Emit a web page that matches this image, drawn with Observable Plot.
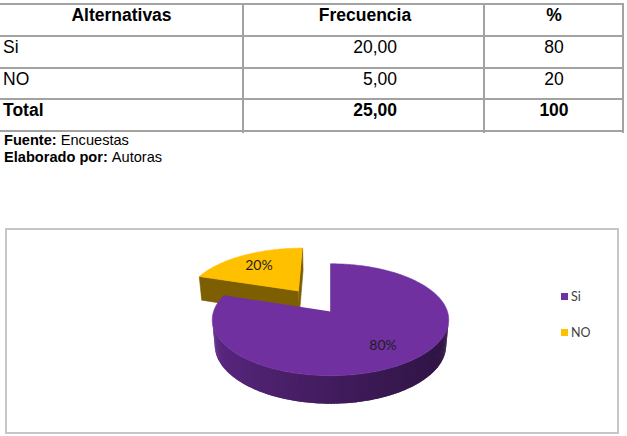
<!DOCTYPE html>
<html>
<head>
<meta charset="utf-8">
<script src="https://cdn.jsdelivr.net/npm/d3@7"></script>
<script src="https://cdn.jsdelivr.net/npm/@observablehq/plot@0.6"></script>
<style>
  html, body { margin: 0; padding: 0; background: #fff; }
  body { width: 627px; height: 436px; position: relative; overflow: hidden;
         font-family: "Liberation Sans", Arial, sans-serif; color: #000; }
  .t { position: absolute; white-space: pre; }
  .hl { position: absolute; left: 0; width: 624px; height: 2px; background: #a2a2a2; }
  .vl { position: absolute; top: 3px; height: 130px; width: 2px; background: #a2a2a2; }
  #box { position: absolute; left: 5px; top: 228px; width: 610px; height: 202px;
         border: 2px solid #c6c6c6; }
  #chart { position: absolute; left: 0; top: 229px; }
  #legend { position: absolute; left: 561px; top: 289px; }
  .lg-swatch { padding-bottom: 0 !important; height: 15px; margin-bottom: 20.5px !important; }
  .lg-swatch svg { margin-right: 3px !important; }
</style>
</head>
<body>
<div id="chart"></div>
<div id="box"></div>
<div id="legend"></div>
<script>
// ---------- data ----------
const headers = ["Alternativas", "Frecuencia", "%"];
const categories = ["Si", "NO"];
const frecuencia = [20, 5];
const porcentaje = [80, 20];
const totalLabel = "Total";
const fuente = ["Fuente:", "Encuestas"];
const elaborado = ["Elaborado por:", "Autoras"];
const colores = ["#7030a0", "#ffc000"];

// ---------- table ----------
const fmt = v => v.toFixed(2).replace(".", ",");
const rowTops = [4, 36, 68, 99, 131];
const colEdges = [0, 243, 484, 623];
rowTops.forEach(y => {
  const d = document.createElement("div"); d.className = "hl"; d.style.top = (y - 1) + "px";
  document.body.appendChild(d);
});
colEdges.slice(1).forEach(x => {
  const d = document.createElement("div"); d.className = "vl"; d.style.left = (x - 1) + "px";
  document.body.appendChild(d);
});
function addText(parts, x, base, align, size) {
  const d = document.createElement("div");
  d.className = "t";
  const lh = Math.round(size * 1.15);
  d.style.fontSize = size + "px"; d.style.lineHeight = lh + "px";
  parts.forEach(([txt, bold]) => {
    const s = document.createElement("span");
    s.textContent = txt; s.style.fontWeight = bold ? "bold" : "normal";
    d.appendChild(s);
  });
  const asc = 0.905 * size, desc = 0.212 * size, half = (lh - asc - desc) / 2;
  d.style.top = (base - half - asc) + "px";
  if (align === "left") d.style.left = x + "px";
  else if (align === "right") d.style.right = (627 - x) + "px";
  else { d.style.left = (x - 200) + "px"; d.style.width = "400px"; d.style.textAlign = "center"; }
  document.body.appendChild(d);
}
const FS = 17.5;
const colCenter = [121.5, 365, 554];
headers.forEach((h, j) => addText([[h, true]], colCenter[j], rowTops[0] + 17, "center", FS));
categories.forEach((c, i) => {
  const base = rowTops[i + 1] + 17;
  addText([[c, false]], 3, base, "left", FS);
  addText([[fmt(frecuencia[i]), false]], 397, base, "right", FS);
  addText([[String(porcentaje[i]), false]], colCenter[2], base, "center", FS);
});
{
  const base = rowTops[3] + 17.5;
  addText([[totalLabel, true]], 3, base, "left", FS);
  addText([[fmt(d3.sum(frecuencia)), true]], 397, base, "right", FS);
  addText([[String(d3.sum(porcentaje)), true]], colCenter[2], base, "center", FS);
}
addText([[fuente[0] + " ", true], [fuente[1], false]], 4, 146, "left", 14.6);
addText([[elaborado[0] + " ", true], [elaborado[1], false]], 4, 162.7, "left", 14.6);

// ---------- 3D pie ----------
const E = 30 * Math.PI / 180, F = 6, H = 0.25;
const explode = [0, 0.49];
function proj(u, v, z) {
  const yUp = v * Math.sin(E) + z * Math.cos(E);
  const D = v * Math.cos(E) - z * Math.sin(E);
  const s = F / (F + D);
  return [u * s, yUp * s];
}
const cam = [0, -F * Math.cos(E), F * Math.sin(E)];
const total = d3.sum(porcentaje);
let acc = 0;
const slices = categories.map((c, i) => {
  const a0 = acc; acc += porcentaje[i] / total * 2 * Math.PI;
  const a1 = acc, mid = (a0 + a1) / 2;
  return { i, c, a0, a1, mid, ou: explode[i] * Math.sin(mid), ov: explode[i] * Math.cos(mid) };
});
const order = slices.slice().sort((a, b) => (b.ov + 0.5 * Math.cos(b.mid)) - (a.ov + 0.5 * Math.cos(a.mid)));
const solid = [], walls = []; let pid = 0;
function poly(arr, list, color) { pid++; list.forEach(([X, Y]) => arr.push({ id: pid, X, Y, color })); }
function visible(n, p) {
  return n[0] * (cam[0] - p[0]) + n[1] * (cam[1] - p[1]) > 0;
}
const labels = [];
const layers = [];
for (const sl of order) {
  const col = colores[sl.i];
  const P = (t, r, z) => proj(sl.ou + r * Math.sin(t), sl.ov + r * Math.cos(t), z);
  const cut = d3.rgb(col).darker(2).formatHex();
  const faces = [], wallPts = [], topPts = [];
  [[sl.a0, sl.a0 - Math.PI / 2], [sl.a1, sl.a1 + Math.PI / 2]].forEach(([t, na]) => {
    const n = [Math.sin(na), Math.cos(na)];
    const p = [sl.ou + 0.5 * Math.sin(t), sl.ov + 0.5 * Math.cos(t)];
    if (visible(n, p)) poly(faces, [P(t, 0, H), P(t, 1, H), P(t, 1, 0), P(t, 0, 0)], cut);
  });
  const step = Math.PI / 150;
  const nSeg = Math.ceil((sl.a1 - sl.a0) / step);
  const segs = [];
  for (let k = 0; k < nSeg; k++) {
    const t0 = sl.a0 + (sl.a1 - sl.a0) * k / nSeg, t1 = sl.a0 + (sl.a1 - sl.a0) * (k + 1) / nSeg;
    const tm = (t0 + t1) / 2;
    const n = [Math.sin(tm), Math.cos(tm)];
    const p = [sl.ou + n[0], sl.ov + n[1]];
    if (!visible(n, p)) continue;
    const t1x = Math.min(sl.a1, t1 + (t1 - t0) * 0.8);
    segs.push({ t0, t1: t1x, tm });
  }
  // draw from right (high sin) to left so overlaps are consistent
  segs.forEach(({ t0, t1, tm }) => {
    const shade = d3.rgb(col).darker(1.5 + 0.95 * Math.sin(tm)).formatHex();
    poly(wallPts, [P(t0, 1, H), P(t1, 1, H), P(t1, 1, 0), P(t0, 1, 0)], shade);
  });
  const top = [P(sl.a0, 0, H)];
  const nArc = Math.ceil((sl.a1 - sl.a0) / (Math.PI / 180));
  for (let k = 0; k <= nArc; k++) top.push(P(sl.a0 + (sl.a1 - sl.a0) * k / nArc, 1, H));
  poly(topPts, top, col);
  layers.push({ faces, wallPts, topPts });
  const [lx, ly] = P(sl.mid, 0.7, H);
  labels.push({ X: lx, Y: ly, text: porcentaje[sl.i] + "%" });
}

const K = 114.5, CX = 330, Y0 = 336.3 - 229;
const marks = [];
layers.forEach(L => {
  marks.push(Plot.line(L.faces, { x: "X", y: "Y", z: "id", fill: "color", stroke: "color", strokeWidth: 0.6, curve: "linear" }));
  marks.push(Plot.line(L.wallPts, { x: "X", y: "Y", z: "id", fill: "color", stroke: "none", curve: "linear" }));
  marks.push(Plot.line(L.topPts, { x: "X", y: "Y", z: "id", fill: "color", stroke: "color", strokeWidth: 0.6, curve: "linear" }));
});
marks.push(Plot.text(labels, { x: "X", y: "Y", text: "text", fontFamily: "Lato", fontSize: 14, fill: "#1e1e1e" }));
const chart = Plot.plot({
  width: 627, height: 205, margin: 0,
  style: { background: "transparent", overflow: "visible" },
  x: { domain: [-1, 1], range: [CX - K, CX + K], axis: null },
  y: { domain: [-1, 1], range: [Y0 + K, Y0 - K], axis: null },
  color: { type: "identity" },
  marks
});
document.getElementById("chart").appendChild(chart);

const leg = Plot.legend({
  color: { type: "ordinal", domain: categories, range: colores },
  legend: "swatches", columns: 1, swatchSize: 7, className: "lg",
  style: { fontFamily: "Lato", fontSize: "12.5px", color: "#404040", background: "transparent" }
});
document.getElementById("legend").appendChild(leg);
</script>
</body>
</html>
